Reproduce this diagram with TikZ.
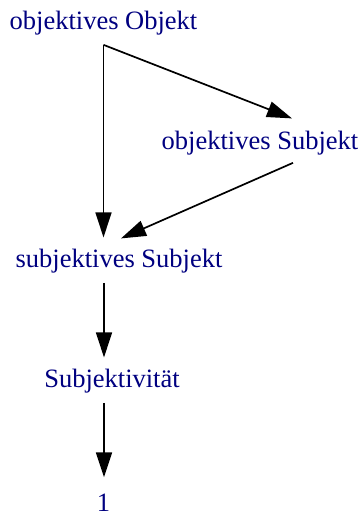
\documentclass[tikz,border=0pt]{standalone}
\usepackage{fontspec}
\setmainfont{Liberation Serif}
\usetikzlibrary{arrows.meta,calc}
\definecolor{navytext}{RGB}{0,0,128}

\begin{document}
\begin{tikzpicture}[x=1pt,y=1pt,>={Triangle[length=25pt,width=16pt]},
  lbl/.style={anchor=base,inner sep=0pt,text=navytext,font=\fontsize{26.5}{30}\selectfont},
  conn/.style={->,line width=1.7pt}]
  \useasboundingbox (0,0) rectangle (362,515);
  \node[lbl] (oo) at (103.5,485) {objektives Objekt};
  \node[lbl] (os) at (260,365) {objektives Subjekt};
  \node[lbl] (ss) at (119,247) {subjektives Subjekt};
  \node[lbl] (sk) at (112,127) {Subjektivität};
  \node[lbl] (one) at (103.5,4) {1};
  % objektiv -> subjektiv
  \draw[conn] ($(oo.south)+(0,-9)$) -- ($(oo.south |- ss.north)+(0,12)$);
  \draw[conn] ($(oo.south)+(0,-9)$) -- ($(os.north)+(32,13)$);
  \draw[conn] ($(os.south)+(33,-7)$) -- ($(ss.north)+(2,11)$);
  % nach unten
  \draw[conn] ($(ss.south)+(-15,-9)$) -- ($(sk.north)+(-8,12)$);
  \draw[conn] ($(sk.south)+(-8,-9)$) -- ($(one.north)+(0.5,16)$);
\end{tikzpicture}
\end{document}
